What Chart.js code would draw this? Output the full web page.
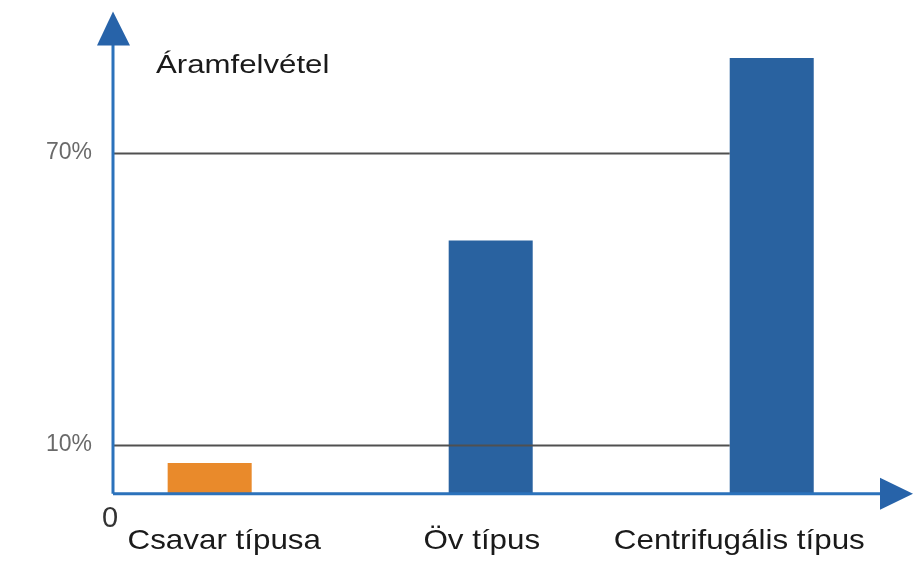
<!DOCTYPE html>
<html>
<head>
<meta charset="utf-8">
<script src="https://cdn.jsdelivr.net/npm/chart.js@4.4.1/dist/chart.umd.min.js"></script>
<style>
  html, body { margin: 0; padding: 0; background: #fff; }
  #wrap { width: 919px; height: 566px; }
</style>
</head>
<body>
<div id="wrap"><canvas id="chart"></canvas></div>
<script>
// data
const categories = ['Csavar típusa', 'Öv típus', 'Centrifugális típus'];
const values = [6.3, 52, 89.5];
const barColors = ['#e98a2b', '#2962a0', '#2962a0'];
const refLines = [10, 70];
const title = 'Áramfelvétel';

const FONT = '"Liberation Sans", Arial, sans-serif';

// write text stretched horizontally around its anchor point
function wideText(ctx, text, x, y, align, stretch) {
  ctx.save();
  ctx.translate(x, y);
  ctx.scale(stretch, 1);
  ctx.textAlign = align;
  ctx.fillText(text, 0, 0);
  ctx.restore();
}

// axes with arrows, reference lines, labels and title
const decorPlugin = {
  id: 'decor',
  afterDatasetsDraw(chart) {
    const ctx = chart.ctx;
    const { left, bottom, top } = chart.chartArea;
    const xl = chart.scales.xl;
    const y = chart.scales.y;
    const lastBar = chart.getDatasetMeta(0).data[2];
    const lineEnd = lastBar.x - lastBar.width / 2;

    ctx.save();
    // reference lines (over the bars, stopping at the last bar)
    ctx.strokeStyle = '#505050';
    ctx.lineWidth = 2;
    refLines.forEach(v => {
      const py = Math.round(y.getPixelForValue(v)) + 0.5;
      ctx.beginPath();
      ctx.moveTo(left, py);
      ctx.lineTo(lineEnd, py);
      ctx.stroke();
    });

    // axis lines
    ctx.strokeStyle = '#2b72bb';
    ctx.lineWidth = 3;
    ctx.beginPath();
    ctx.moveTo(left, bottom);
    ctx.lineTo(left, top + 20);
    ctx.moveTo(left, bottom);
    ctx.lineTo(885, bottom);
    ctx.stroke();

    // arrow heads
    ctx.fillStyle = '#2763a9';
    ctx.beginPath();
    ctx.moveTo(left, top - 10);
    ctx.lineTo(left - 16, top + 24);
    ctx.lineTo(left + 17, top + 24);
    ctx.closePath();
    ctx.fill();
    ctx.beginPath();
    ctx.moveTo(913, bottom);
    ctx.lineTo(880, bottom - 16);
    ctx.lineTo(880, bottom + 16);
    ctx.closePath();
    ctx.fill();

    ctx.textBaseline = 'alphabetic';
    // "0" at the origin
    ctx.fillStyle = '#333';
    ctx.font = '29px ' + FONT;
    wideText(ctx, '0', left - 3, bottom + 33, 'center', 1);

    // category labels, placed on their own (hidden) label scale
    ctx.fillStyle = '#1a1a1a';
    ctx.font = '28px ' + FONT;
    categories.forEach((c, i) => {
      wideText(ctx, c, xl.getPixelForValue(i), bottom + 55, 'center', 1.12);
    });

    // title inside the chart
    ctx.font = '26px ' + FONT;
    wideText(ctx, title, 156, 73, 'left', 1.2);
    ctx.restore();
  }
};

new Chart(document.getElementById('chart'), {
  type: 'bar',
  data: {
    datasets: [{
      data: categories.map((c, i) => ({ x: i, y: values[i] })),
      backgroundColor: barColors,
      barPercentage: 0.299,
      categoryPercentage: 1
    }]
  },
  options: {
    responsive: true,
    maintainAspectRatio: false,
    animation: false,
    layout: { padding: { top: 21.6, right: 27, left: 0, bottom: 0 } },
    plugins: { legend: { display: false }, tooltip: { enabled: false } },
    scales: {
      x: {
        type: 'linear',
        offset: false,
        min: -0.344,
        max: 2.428,
        grid: { display: false, drawTicks: false },
        border: { display: false },
        ticks: { display: false },
        afterBuildTicks: s => { s.ticks = categories.map((c, i) => ({ value: i })); },
        afterFit: s => { s.height = 72.3; s.paddingLeft = 0; s.paddingRight = 0; }
      },
      xl: {
        type: 'linear',
        axis: 'x',
        position: 'bottom',
        display: false,
        offset: false,
        min: -0.432,
        max: 2.593
      },
      y: {
        min: 0,
        max: 97,
        grid: { display: false, drawTicks: false },
        border: { display: false },
        afterBuildTicks: s => { s.ticks = refLines.map(v => ({ value: v })); },
        afterFit: s => { s.width = 113; s.paddingTop = 0; s.paddingBottom = 0; },
        ticks: {
          padding: 21,
          color: '#6a6a6a',
          font: { family: FONT, size: 23 },
          callback: v => v + '%'
        }
      }
    }
  },
  plugins: [decorPlugin]
});
</script>
</body>
</html>
